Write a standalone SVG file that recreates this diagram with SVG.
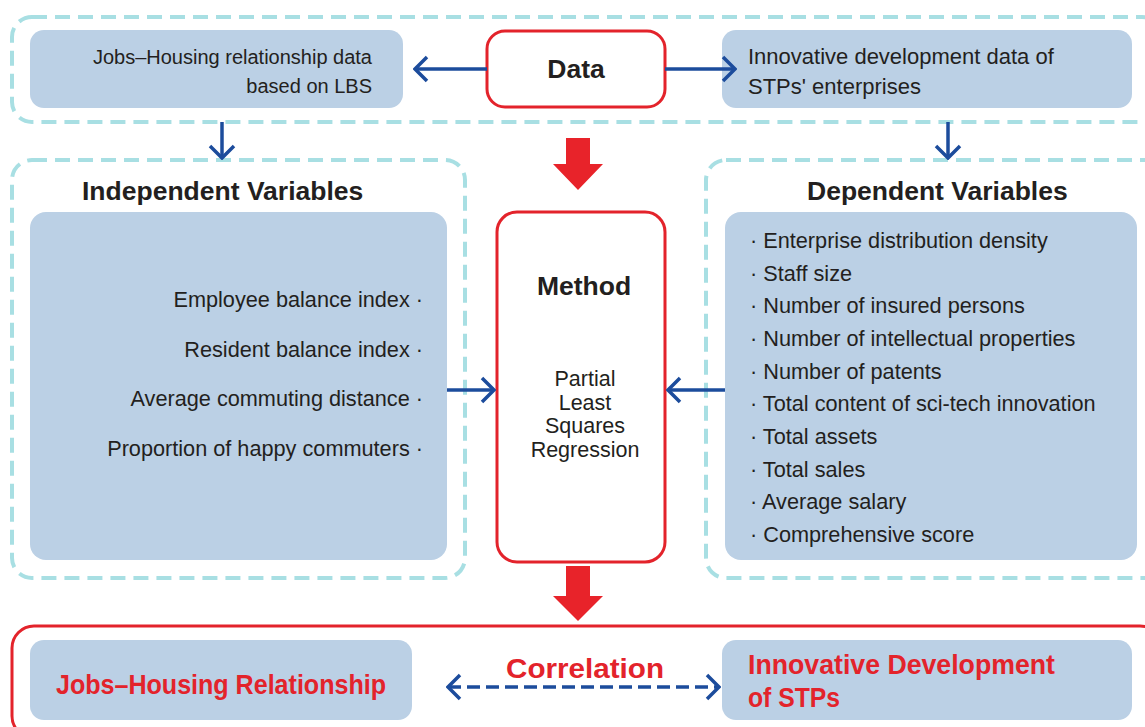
<svg xmlns="http://www.w3.org/2000/svg" width="1145" height="727" viewBox="0 0 1145 727">
<defs>
<style>
.dash{fill:none;stroke:#a8dfe3;stroke-width:4;stroke-dasharray:15 8}
.blue{fill:#bbd0e5}
.red{fill:#fff;stroke:#e3232b;stroke-width:3}
.t{font-family:"Liberation Sans",Arial,sans-serif;font-size:20px;fill:#231f20}
.tr{font-family:"Liberation Sans",Arial,sans-serif;font-size:22px;fill:#231f20}
.m{font-family:"Liberation Sans",Arial,sans-serif;font-size:21.5px;fill:#231f20}
.it{font-family:"Liberation Sans",Arial,sans-serif;font-size:21.7px;fill:#231f20}
.b{font-family:"Liberation Sans",Arial,sans-serif;font-weight:bold;font-size:26.5px;fill:#231f20}
.rb{font-family:"Liberation Sans",Arial,sans-serif;font-weight:bold;font-size:28px;fill:#e3232b}
.conn{fill:none;stroke:#1c4c9c;stroke-width:3.5}
.bigred{fill:#e8232a}
</style>
<marker id="ah" viewBox="0 0 16 28" markerWidth="16" markerHeight="28" refX="14" refY="14" orient="auto-start-reverse" markerUnits="userSpaceOnUse">
<path d="M2,2 L14,14 L2,26" fill="none" stroke="#1c4c9c" stroke-width="3.5"/>
</marker>
</defs>
<rect width="1145" height="727" fill="#fff"/>

<g id="data-group">
<rect class="dash" x="12" y="17" width="1150" height="105" rx="20"/>
</g>
<g id="lbs-data">
<rect class="blue" x="30" y="30" width="373" height="78" rx="14"/>
<text class="t" text-anchor="end" x="372" y="64">Jobs–Housing relationship data</text>
<text class="t" text-anchor="end" x="372" y="93">based on LBS</text>
</g>
<g id="data">
<rect class="red" x="487" y="31" width="178" height="76" rx="18"/>
<text class="b" text-anchor="middle" x="576" y="78">Data</text>
</g>
<g id="stp-data">
<rect class="blue" x="722" y="30" width="410" height="78" rx="14"/>
<text class="tr" x="748" y="64">Innovative development data of</text>
<text class="tr" x="748" y="94">STPs' enterprises</text>
</g>

<g id="independent">
<rect class="dash" x="12" y="160" width="453" height="418" rx="20"/>
<text class="b" x="82" y="200">Independent Variables</text>
<rect class="blue" x="30" y="212" width="417" height="348" rx="16"/>
<text class="it" text-anchor="end" x="423" y="307">Employee balance index ·</text>
<text class="it" text-anchor="end" x="423" y="357">Resident balance index ·</text>
<text class="it" text-anchor="end" x="423" y="406">Average commuting distance ·</text>
<text class="it" text-anchor="end" x="423" y="456">Proportion of happy commuters ·</text>
</g>

<g id="method">
<rect class="red" x="497" y="212" width="168" height="350" rx="20"/>
<text class="b" text-anchor="middle" x="584" y="295">Method</text>
<text class="m" text-anchor="middle" x="585" y="386">Partial</text>
<text class="m" text-anchor="middle" x="585" y="410">Least</text>
<text class="m" text-anchor="middle" x="585" y="433">Squares</text>
<text class="m" text-anchor="middle" x="585" y="457">Regression</text>
</g>

<g id="dependent">
<rect class="dash" x="706" y="160" width="460" height="418" rx="20"/>
<text class="b" x="807" y="200">Dependent Variables</text>
<rect class="blue" x="725" y="212" width="412" height="348" rx="16"/>
<text class="it" x="750" y="248">· Enterprise distribution density</text>
<text class="it" x="750" y="281">· Staff size</text>
<text class="it" x="750" y="313">· Number of insured persons</text>
<text class="it" x="750" y="346">· Number of intellectual properties</text>
<text class="it" x="750" y="379">· Number of patents</text>
<text class="it" x="750" y="411">· Total content of sci-tech innovation</text>
<text class="it" x="750" y="444">· Total assets</text>
<text class="it" x="750" y="477">· Total sales</text>
<text class="it" x="750" y="509">· Average salary</text>
<text class="it" x="750" y="542">· Comprehensive score</text>
</g>

<g id="result">
<rect x="12" y="626" width="1150" height="112" rx="22" fill="none" stroke="#e3232b" stroke-width="3"/>
</g>
<g id="jhr">
<rect class="blue" x="30" y="640" width="382" height="80" rx="14"/>
<text class="rb" text-anchor="middle" x="221" y="694" textLength="330" lengthAdjust="spacingAndGlyphs">Jobs–Housing Relationship</text>
</g>
<g id="idstp">
<rect class="blue" x="722" y="640" width="410" height="80" rx="14"/>
<text class="rb" x="748" y="674" textLength="307" lengthAdjust="spacingAndGlyphs">Innovative Development</text>
<text class="rb" x="748" y="707" textLength="92" lengthAdjust="spacingAndGlyphs">of STPs</text>
</g>
<text class="rb" text-anchor="middle" x="585" y="678" textLength="158" lengthAdjust="spacingAndGlyphs">Correlation</text>

<g id="connectors">
<line class="conn" x1="487" y1="69" x2="415" y2="69" marker-end="url(#ah)"/>
<line class="conn" x1="665" y1="69" x2="735" y2="69" marker-end="url(#ah)"/>
<line class="conn" x1="222" y1="122" x2="222" y2="158" marker-end="url(#ah)"/>
<line class="conn" x1="948" y1="122" x2="948" y2="158" marker-end="url(#ah)"/>
<line class="conn" x1="447" y1="390" x2="494" y2="390" marker-end="url(#ah)"/>
<line class="conn" x1="725" y1="390" x2="668" y2="390" marker-end="url(#ah)"/>
<line class="conn" x1="448" y1="687" x2="719" y2="687" stroke-dasharray="13 6" marker-start="url(#ah)" marker-end="url(#ah)"/>
<polygon class="bigred" points="566,138 590,138 590,164 603,164 578,190 553,164 566,164"/>
<polygon class="bigred" points="566,566 590,566 590,596 603,596 578,621 553,596 566,596"/>
</g>
</svg>
